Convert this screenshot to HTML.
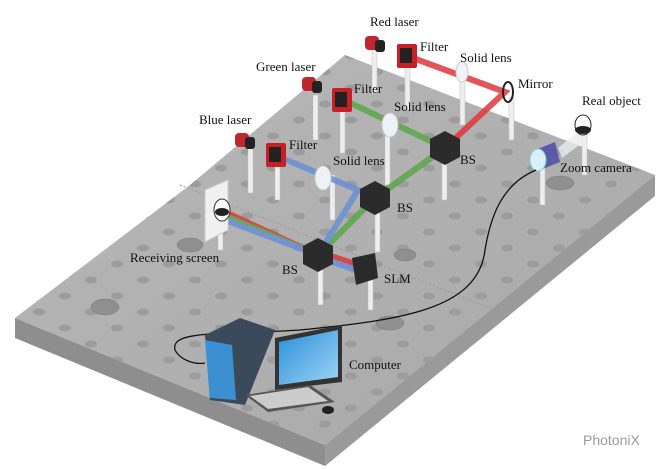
<!DOCTYPE html><html><head><style>body{margin:0;background:#fff}svg{display:block}text{font-family:"Liberation Serif",serif;font-size:13px;fill:#111}</style></head><body>
<svg width="670" height="469" viewBox="0 0 670 469" xmlns="http://www.w3.org/2000/svg">
<defs><linearGradient id="top" x1="0" y1="0" x2="1" y2="1"><stop offset="0" stop-color="#b8b8b8"/><stop offset="1" stop-color="#a8a8a8"/></linearGradient>
<linearGradient id="scr" x1="0" y1="0" x2="1" y2="1"><stop offset="0" stop-color="#2a8fd8"/><stop offset="1" stop-color="#9fd4f5"/></linearGradient>
<pattern id="holes" width="52" height="32" patternUnits="userSpaceOnUse"><ellipse cx="13" cy="8" rx="6" ry="3.5" fill="#9c9c9c"/><ellipse cx="39" cy="24" rx="6" ry="3.5" fill="#9c9c9c"/></pattern>
<clipPath id="tc"><polygon points="15,318 190,185 345,55 655,175 325,445"/></clipPath></defs>
<polygon points="15,318 325,445 325,466 15,338" fill="#8e8e8e"/>
<polygon points="325,445 655,175 655,196 325,466" fill="#9a9a9a"/>
<polygon points="15,318 190,185 345,55 655,175 325,445" fill="url(#top)"/>
<rect x="0" y="50" width="670" height="400" fill="url(#holes)" clip-path="url(#tc)"/>
<line x1="180" y1="185" x2="495" y2="310" stroke="#999" stroke-dasharray="2,2"/>
<g fill="#8f8f8f" stroke="#7a7a7a" stroke-width="0.5">
<ellipse cx="105" cy="307" rx="14" ry="8"/><ellipse cx="190" cy="245" rx="13" ry="7"/><ellipse cx="405" cy="255" rx="11" ry="6"/><ellipse cx="390" cy="323" rx="14" ry="7"/><ellipse cx="560" cy="183" rx="14" ry="7"/>
</g>
<g fill="#eee" stroke="#bbb" stroke-width="0.5">
<rect x="372" y="48" width="5" height="45"/><rect x="405" y="65" width="5" height="45"/><rect x="460" y="75" width="5" height="50"/><rect x="509" y="98" width="5" height="42"/>
<rect x="313" y="95" width="5" height="45"/><rect x="340" y="108" width="5" height="45"/><rect x="385" y="130" width="5" height="55"/><rect x="442" y="160" width="5" height="40"/>
<rect x="248" y="148" width="5" height="45"/><rect x="275" y="165" width="5" height="35"/><rect x="330" y="175" width="5" height="45"/><rect x="375" y="212" width="5" height="40"/>
<rect x="318" y="268" width="5" height="37"/><rect x="368" y="280" width="5" height="30"/><rect x="218" y="225" width="5" height="25"/><rect x="540" y="165" width="5" height="40"/><rect x="582" y="135" width="5" height="40"/>
</g>
<g stroke-width="6" fill="none" opacity="0.85">
<polyline points="405,55 505,92 445,148 375,198 318,255 225,212" stroke="#e0363a"/>
<polyline points="340,98 445,148 375,198 318,255 225,216" stroke="#5aa84a"/>
<polyline points="275,155 358,190 318,255 225,220" stroke="#6a8fd6"/>
<polyline points="318,252 365,267" stroke="#e0363a"/>
<polyline points="318,257 362,272" stroke="#6a8fd6"/>
</g>
<g fill="#eef2f6" stroke="#ccc"><ellipse cx="462" cy="72" rx="6" ry="10"/><ellipse cx="390" cy="125" rx="8" ry="12"/><ellipse cx="323" cy="178" rx="8" ry="12"/></g>
<ellipse cx="508" cy="92" rx="5" ry="10" fill="none" stroke="#222" stroke-width="2"/>
<g>
<rect x="365" y="36" width="14" height="14" rx="4" fill="#c0262b"/><rect x="375" y="40" width="10" height="12" rx="3" fill="#222"/><rect x="397" y="44" width="20" height="24" rx="2" fill="#c81e25"/><rect x="400" y="48" width="12" height="15" fill="#222"/>
<rect x="302" y="77" width="14" height="14" rx="4" fill="#c0262b"/><rect x="312" y="81" width="10" height="12" rx="3" fill="#222"/><rect x="332" y="88" width="20" height="24" rx="2" fill="#c81e25"/><rect x="335" y="92" width="12" height="15" fill="#222"/>
<rect x="235" y="133" width="14" height="14" rx="4" fill="#c0262b"/><rect x="245" y="137" width="10" height="12" rx="3" fill="#222"/><rect x="266" y="143" width="20" height="24" rx="2" fill="#c81e25"/><rect x="269" y="147" width="12" height="15" fill="#222"/></g>
<g fill="#2b2b2b"><polygon points="445,131 460,139 460,157 445,165 430,157 430,139"/><polygon points="375,181 390,189 390,207 375,215 360,207 360,189"/><polygon points="318,238 333,246 333,264 318,272 303,264 303,246"/></g>
<polygon points="352,258 375,253 378,278 356,285" fill="#2a2a2a"/>
<polygon points="205,190 228,180 228,230 205,242" fill="#f0f0f0" stroke="#ccc"/>
<ellipse cx="222" cy="210" rx="8" ry="11" fill="#fff" stroke="#333"/><ellipse cx="222" cy="212" rx="7" ry="4" fill="#222"/>
<polygon points="535,150 555,142 560,162 540,170" fill="#5a5aa8"/><ellipse cx="538" cy="160" rx="8" ry="11" fill="#d8f0fa" stroke="#8cc"/>
<polygon points="558,148 580,130 586,140 562,158" fill="#e8eef2" opacity="0.8"/>
<ellipse cx="583" cy="125" rx="8" ry="10" fill="#fff" stroke="#222"/><ellipse cx="583" cy="130" rx="8" ry="4" fill="#222"/>
<path d="M536,170 C500,185 490,220 485,250 C478,310 400,320 300,330 C220,335 170,330 175,350 C180,360 195,365 205,363" fill="none" stroke="#111" stroke-width="1.3"/>
<polygon points="205,335 240,318 275,330 245,405 210,400" fill="#3a4a5a"/>
<polygon points="205,340 232,345 236,400 210,398" fill="#3c8fd0"/>
<polygon points="275,338 342,325 342,382 275,390" fill="#333"/>
<polygon points="279,342 338,330 338,377 279,385" fill="url(#scr)"/>
<polygon points="245,395 310,385 335,402 268,412" fill="#555"/>
<polygon points="250,396 308,387 328,401 268,409" fill="#ccc"/>
<ellipse cx="328" cy="410" rx="6" ry="4" fill="#222"/>
<text x="370" y="26">Red laser</text><text x="420" y="51">Filter</text><text x="460" y="62">Solid lens</text><text x="518" y="88">Mirror</text><text x="582" y="105">Real object</text>
<text x="256" y="71">Green laser</text><text x="354" y="93">Filter</text><text x="394" y="111">Solid lens</text><text x="460" y="164">BS</text>
<text x="199" y="124">Blue laser</text><text x="289" y="149">Filter</text><text x="333" y="165">Solid lens</text><text x="397" y="212">BS</text><text x="560" y="172">Zoom camera</text>
<text x="130" y="262">Receiving screen</text><text x="282" y="274">BS</text><text x="384" y="283">SLM</text><text x="349" y="369">Computer</text>
<text x="583" y="445" style="font-family:'Liberation Sans',sans-serif;font-size:14px;fill:#999">PhotoniX</text>
</svg></body></html>
